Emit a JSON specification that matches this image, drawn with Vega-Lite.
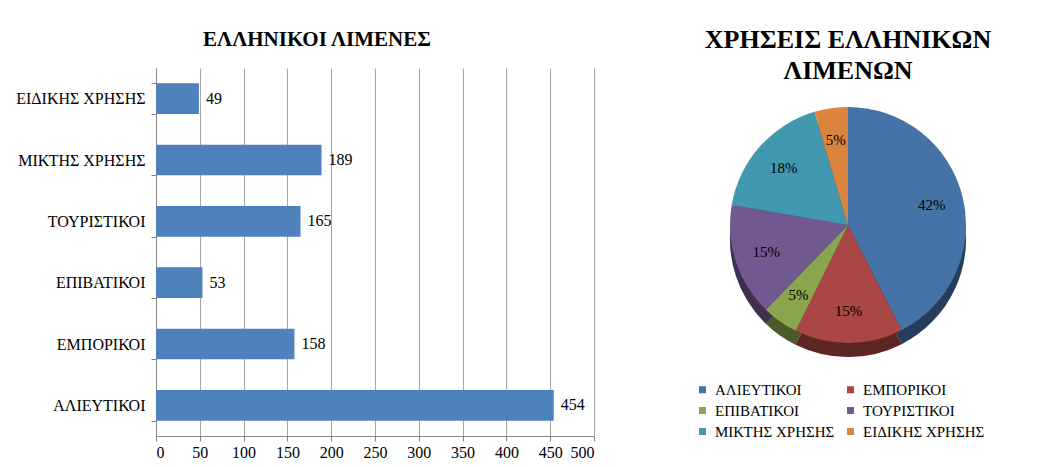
{
  "$schema": "https://vega.github.io/schema/vega-lite/v6.json",
  "padding": {"left": 15, "top": 27, "right": 0, "bottom": 0},
  "background": "white",
  "config": {
    "font": "Liberation Serif",
    "view": {"stroke": null},
    "title": {"font": "Liberation Serif", "fontWeight": "bold", "color": "black"},
    "axis": {"labelFont": "Liberation Serif", "labelColor": "black"},
    "legend": {"labelFont": "Liberation Serif", "labelColor": "black"}
  },
  "datasets": {
    "ports": [
      {"cat": "ΑΛΙΕΥΤΙΚΟΙ", "value": 454, "ord": 1, "pct": "42%"},
      {"cat": "ΕΜΠΟΡΙΚΟΙ", "value": 158, "ord": 2, "pct": "15%"},
      {"cat": "ΕΠΙΒΑΤΙΚΟΙ", "value": 53, "ord": 3, "pct": "5%"},
      {"cat": "ΤΟΥΡΙΣΤΙΚΟΙ", "value": 165, "ord": 4, "pct": "15%"},
      {"cat": "ΜΙΚΤΗΣ ΧΡΗΣΗΣ", "value": 189, "ord": 5, "pct": "18%"},
      {"cat": "ΕΙΔΙΚΗΣ ΧΡΗΣΗΣ", "value": 49, "ord": 6, "pct": "5%"}
    ]
  },
  "spacing": 41,
  "hconcat": [
    {
      "width": 438,
      "height": 368,
      "data": {"name": "ports"},
      "title": {"text": "ΕΛΛΗΝΙΚΟΙ ΛΙΜΕΝΕΣ", "fontSize": 21, "anchor": "middle", "dx": -58, "offset": 10},
      "encoding": {
        "y": {
          "field": "cat", "type": "nominal",
          "sort": ["ΕΙΔΙΚΗΣ ΧΡΗΣΗΣ", "ΜΙΚΤΗΣ ΧΡΗΣΗΣ", "ΤΟΥΡΙΣΤΙΚΟΙ", "ΕΠΙΒΑΤΙΚΟΙ", "ΕΜΠΟΡΙΚΟΙ", "ΑΛΙΕΥΤΙΚΟΙ"],
          "scale": {"paddingInner": 0.5, "paddingOuter": 0.25},
          "axis": {"title": null, "tickBand": "extent", "labelFontSize": 16, "tickSize": 5, "labelPadding": 6, "domainColor": "#868686", "tickColor": "#868686", "grid": false}
        },
        "x": {
          "field": "value", "type": "quantitative",
          "scale": {"domain": [0, 500], "nice": false},
          "axis": {"title": null, "values": [0, 50, 100, 150, 200, 250, 300, 350, 400, 450, 500], "labelFontSize": 16, "grid": true, "gridColor": "#A6A6A6", "domainColor": "#868686", "tickColor": "#868686", "tickSize": 5, "labelPadding": 3, "labelAngle": 0}
        }
      },
      "layer": [
        {"mark": {"type": "bar", "color": "#4F81BD"}},
        {"mark": {"type": "text", "align": "left", "dx": 7, "fontSize": 16, "baseline": "middle", "color": "black"}, "encoding": {"text": {"field": "value"}}}
      ]
    },
    {
      "width": 424,
      "height": 314,
      "data": {"name": "ports"},
      "title": {"text": ["ΧΡΗΣΕΙΣ ΕΛΛΗΝΙΚΩΝ", "ΛΙΜΕΝΩΝ"], "fontSize": 26, "lineHeight": 31, "anchor": "middle", "offset": 0, "dy": 16},
      "encoding": {
        "theta": {"field": "value", "type": "quantitative", "stack": true},
        "order": {"field": "ord"},
        "color": {
          "field": "cat", "type": "nominal",
          "scale": {"domain": ["ΑΛΙΕΥΤΙΚΟΙ", "ΕΜΠΟΡΙΚΟΙ", "ΕΠΙΒΑΤΙΚΟΙ", "ΤΟΥΡΙΣΤΙΚΟΙ", "ΜΙΚΤΗΣ ΧΡΗΣΗΣ", "ΕΙΔΙΚΗΣ ΧΡΗΣΗΣ"],
                    "range": ["#4572A7", "#AA4643", "#89A54E", "#71588F", "#4198AF", "#DB843D"]},
          "legend": {"title": null, "orient": "none", "legendX": 539, "legendY": 314, "direction": "horizontal", "columns": 2, "symbolType": "square", "symbolSize": 49, "symbolStrokeWidth": 0, "labelFontSize": 15, "labelOffset": 5, "rowPadding": 5, "columnPadding": 8}
        }
      },
      "layer": [
        {"mark": {"type": "arc", "outerRadius": 118, "yOffset": 14}},
        {"mark": {"type": "arc", "outerRadius": 118, "yOffset": 14, "opacity": 0.45}, "encoding": {"color": {"value": "black"}}},
        {"mark": {"type": "arc", "outerRadius": 118}},
        {"mark": {"type": "text", "radius": 86, "fontSize": 15}, "encoding": {"text": {"field": "pct"}, "color": {"value": "black"}}}
      ]
    }
  ]
}
